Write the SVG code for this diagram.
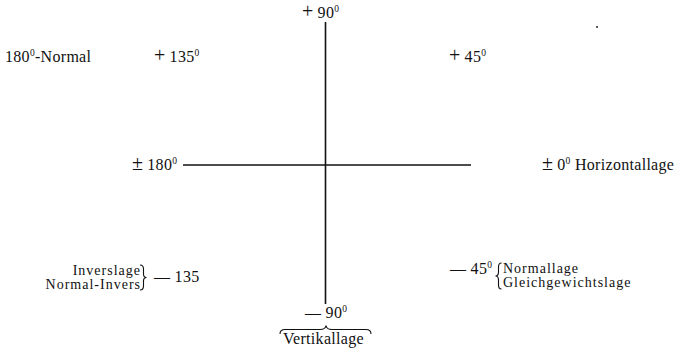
<svg xmlns="http://www.w3.org/2000/svg" width="679" height="351" viewBox="0 0 679 351">
<style>
.t{font-family:'Liberation Serif','Times New Roman',Times,serif;font-size:16px;fill:#111;letter-spacing:0.3px}
.s{font-size:14px;letter-spacing:1px}
.sym{font-size:20px;letter-spacing:0}
.sup{font-size:9.5px}
.ln{stroke:#111;stroke-width:1.6;fill:none}
.br{stroke:#111;stroke-width:1.1;fill:none}
</style>
<rect width="679" height="351" fill="#fff"/>
<g id="connectors">
<line class="ln" x1="325.5" y1="22" x2="325.5" y2="304"/>
<line class="ln" x1="183" y1="165" x2="471" y2="165"/>
</g>
<g font-family="Liberation Serif, serif">
<g id="n-plus90"><text class="t" x="302" y="18"><tspan class="sym">+</tspan> 90<tspan class="sup" dy="-6">0</tspan></text></g>
<g id="n-180normal"><text class="t" x="5" y="62">180<tspan class="sup" dy="-6">0</tspan><tspan dy="6">-Normal</tspan></text></g>
<g id="n-plus135"><text class="t" x="154" y="62"><tspan class="sym">+</tspan> 135<tspan class="sup" dy="-6">0</tspan></text></g>
<g id="n-plus45"><text class="t" x="449" y="62"><tspan class="sym">+</tspan> 45<tspan class="sup" dy="-6">0</tspan></text></g>
<g id="dot"><circle cx="597" cy="27" r="0.9" fill="#111"/></g>
<g id="n-pm180"><text class="t" x="132" y="170"><tspan class="sym">±</tspan> 180<tspan class="sup" dy="-6">0</tspan></text></g>
<g id="n-pm0"><text class="t" x="542" y="170"><tspan class="sym">±</tspan> 0<tspan class="sup" dy="-6">0</tspan><tspan dy="6"> Horizontallage</tspan></text></g>
<g id="n-minus135">
<text class="t s" x="141" y="275" text-anchor="end">Inverslage</text>
<text class="t s" x="141" y="289" text-anchor="end">Normal-Invers</text>
<path class="br" d="M140,265 Q143.5,265 143.5,269 L143.5,274 Q143.5,277.5 146.5,277.5 Q143.5,277.5 143.5,281 L143.5,286 Q143.5,290 140,290"/>
<text class="t" x="154" y="282">— 135</text>
</g>
<g id="n-minus45">
<text class="t" x="450" y="274">— 45<tspan class="sup" dy="-6">0</tspan></text>
<path class="br" d="M501.5,263 Q498.5,263 498.5,267 L498.5,272 Q498.5,276 495.5,276 Q498.5,276 498.5,280 L498.5,285 Q498.5,289 501.5,289"/>
<text class="t s" x="503" y="273">Normallage</text>
<text class="t s" x="503" y="287">Gleichgewichtslage</text>
</g>
<g id="n-minus90">
<text class="t" x="305" y="318">— 90<tspan class="sup" dy="-6">0</tspan></text>
<path class="br" d="M280,334 Q280,329.5 285,329.5 L320,329.5 Q325.5,329.5 326,325.5 Q326.5,329.5 332,329.5 L366,329.5 Q371,329.5 371,334"/>
<text class="t" x="283" y="344">Vertikallage</text>
</g>
</g>
</svg>
